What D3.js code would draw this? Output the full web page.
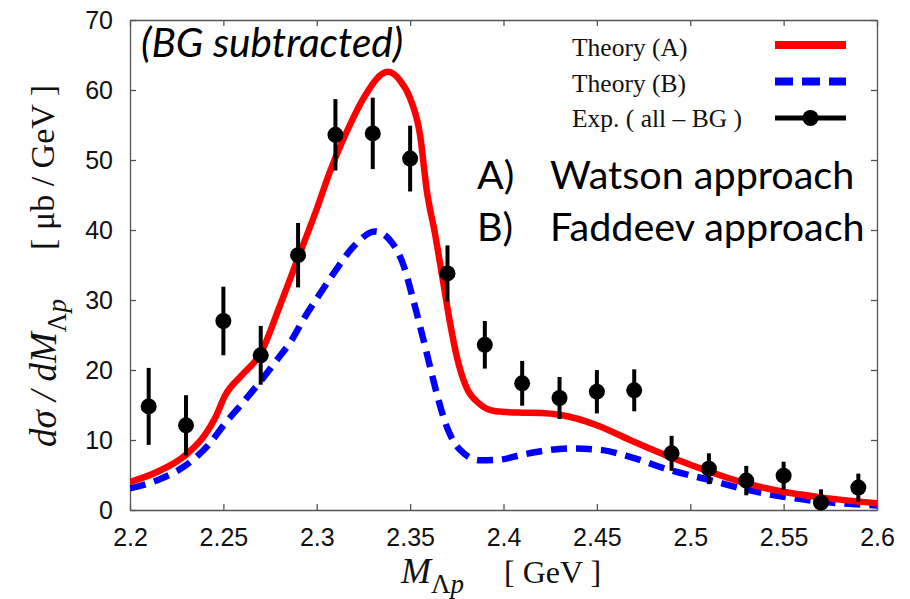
<!DOCTYPE html>
<html>
<head>
<meta charset="utf-8">
<script src="https://cdn.jsdelivr.net/npm/d3@7"></script>
<style>
  body { margin: 0; background: #fff; }
</style>
</head>
<body>
<div id="chart"></div>
<script>
// experimental points (all - BG)
const expMass = [2.21, 2.23, 2.25, 2.27, 2.29, 2.31, 2.33, 2.35, 2.37, 2.39,
                 2.41, 2.43, 2.45, 2.47, 2.49, 2.51, 2.53, 2.55, 2.57, 2.59];
const expValue = [14.8, 12.1, 27.0, 22.1, 36.4, 53.6, 53.8, 50.2, 33.8, 23.6,
                  18.1, 16.0, 16.9, 17.1, 8.1, 5.9, 4.2, 4.9, 1.05, 3.2];
const expError = [5.5, 4.3, 4.9, 4.2, 4.6, 5.1, 5.1, 4.7, 4.0, 3.4,
                  3.2, 3.0, 3.1, 3.0, 2.5, 2.2, 2.1, 2.0, 1.9, 2.0];

// Theory (A) - Watson approach
const theoryAMass = [2.200, 2.215, 2.230, 2.240, 2.2455, 2.251, 2.260, 2.270, 2.280, 2.290,
                     2.300, 2.307, 2.316, 2.325, 2.334, 2.338, 2.3445, 2.350, 2.3553, 2.359,
                     2.3633, 2.3678, 2.3714, 2.375, 2.380, 2.387, 2.396, 2.410, 2.420, 2.430,
                     2.440, 2.450, 2.4677, 2.489, 2.510, 2.530, 2.550, 2.570, 2.600];
const theoryAValue = [4.0, 5.5, 7.9, 10.7, 13.1, 16.4, 19.3, 22.4, 29.0, 36.0,
                      43.0, 48.3, 54.0, 58.8, 62.1, 62.6, 61.4, 58.8, 53.6, 45.5,
                      39.5, 32.4, 26.7, 21.9, 17.6, 15.2, 14.1, 13.9, 13.85, 13.6,
                      13.0, 12.1, 10.0, 7.6, 5.5, 3.8, 2.6, 1.8, 0.95];

// Theory (B) - Faddeev approach
const theoryBMass = [2.200, 2.215, 2.230, 2.242, 2.251, 2.260, 2.269, 2.278, 2.2866, 2.2937,
                     2.300, 2.309, 2.3196, 2.3312, 2.340, 2.3464, 2.3517, 2.3589, 2.3642, 2.3696,
                     2.3767, 2.3874, 2.398, 2.410, 2.420, 2.4356, 2.4517, 2.4677, 2.489, 2.510,
                     2.530, 2.550, 2.570, 2.600];
const theoryBValue = [3.1, 4.3, 6.4, 9.3, 12.4, 15.2, 18.1, 21.2, 24.3, 27.6,
                      30.2, 33.8, 37.6, 39.8, 38.3, 35.0, 30.0, 22.4, 16.7, 11.9,
                      8.6, 7.1, 7.2, 7.9, 8.4, 8.8, 8.6, 7.6, 5.7, 4.3,
                      2.9, 1.9, 1.2, 0.65];

const xTicks = [2.2, 2.25, 2.3, 2.35, 2.4, 2.45, 2.5, 2.55, 2.6];
const yTicks = [0, 10, 20, 30, 40, 50, 60, 70];

const legendItems = ["Theory (A)", "Theory (B)", "Exp. ( all \u2013 BG )"];

const margin = { top: 20, right: 33, bottom: 89, left: 130 },
    width = 910 - margin.left - margin.right,
    height = 599 - margin.top - margin.bottom;

const x = d3.scaleLinear().domain([2.2, 2.6]).range([0, width]);
const y = d3.scaleLinear().domain([0, 70]).range([height, 0]);

const svg = d3.select("#chart")
  .append("svg")
  .attr("width", 910)
  .attr("height", 599);

const chart = svg.append("g")
  .attr("transform", "translate(" + margin.left + "," + margin.top + ")");

chart.append("clipPath")
  .attr("id", "plot-clip")
  .append("rect")
  .attr("width", width)
  .attr("height", height);

// axes on all four sides, ticks pointing inward
const axisColor = "#555";
const tickFont = "'Liberation Sans', Arial, sans-serif";
const serif = "'Liberation Serif', 'Times New Roman', serif";

chart.append("g")
  .attr("transform", "translate(0," + height + ")")
  .call(d3.axisBottom(x).tickValues(xTicks).tickFormat(d3.format("")).tickSizeInner(-6).tickSizeOuter(0).tickPadding(18));

chart.append("g")
  .call(d3.axisLeft(y).tickValues(yTicks).tickSizeInner(-6).tickSizeOuter(0).tickPadding(17));

chart.append("g")
  .call(d3.axisTop(x).tickValues(xTicks).tickFormat("").tickSizeInner(-6).tickSizeOuter(0));

chart.append("g")
  .attr("transform", "translate(" + width + ",0)")
  .call(d3.axisRight(y).tickValues(yTicks).tickFormat("").tickSizeInner(-6).tickSizeOuter(0));

chart.selectAll(".domain, .tick line")
  .attr("stroke", axisColor)
  .attr("stroke-width", 1.3);

chart.selectAll(".tick text")
  .attr("fill", "#111")
  .style("font", "25px " + tickFont);

// theory curves
const theoryA = theoryAMass.map((m, i) => ({ m: m, v: theoryAValue[i] }));
const theoryB = theoryBMass.map((m, i) => ({ m: m, v: theoryBValue[i] }));

const line = d3.line()
  .curve(d3.curveMonotoneX)
  .x((d) => x(d.m))
  .y((d) => y(d.v));

const curves = chart.append("g").attr("clip-path", "url(#plot-clip)");

curves.append("path")
  .datum(theoryB)
  .attr("fill", "none")
  .attr("stroke", "#0000ff")
  .attr("stroke-width", 6.5)
  .attr("stroke-dasharray", "16,9")
  .attr("d", line);

curves.append("path")
  .datum(theoryA)
  .attr("fill", "none")
  .attr("stroke", "#ff0000")
  .attr("stroke-width", 6.5)
  .attr("d", line);

// experimental points with error bars
const exp = expMass.map((m, i) => ({ m: m, v: expValue[i], e: expError[i] }));

chart.append("g")
  .attr("clip-path", "url(#plot-clip)")
  .selectAll("line")
  .data(exp)
  .join("line")
  .attr("x1", (d) => x(d.m))
  .attr("x2", (d) => x(d.m))
  .attr("y1", (d) => y(d.v - d.e))
  .attr("y2", (d) => y(d.v + d.e))
  .attr("stroke", "#000")
  .attr("stroke-width", 4);

chart.append("g")
  .selectAll("circle")
  .data(exp)
  .join("circle")
  .attr("cx", (d) => x(d.m))
  .attr("cy", (d) => y(d.v))
  .attr("r", 8)
  .attr("fill", "#000");

// legend
const legend = svg.append("g");

legend.selectAll("text")
  .data(legendItems)
  .join("text")
  .attr("x", 572)
  .attr("y", (d, i) => 56 + i * 35.5)
  .style("font", "25.5px " + serif)
  .attr("fill", "#111")
  .text((d) => d);

legend.append("line")
  .attr("x1", 775).attr("x2", 846)
  .attr("y1", 45).attr("y2", 45)
  .attr("stroke", "#ff0000")
  .attr("stroke-width", 8);

legend.append("line")
  .attr("x1", 775).attr("x2", 846)
  .attr("y1", 81.5).attr("y2", 81.5)
  .attr("stroke", "#0000ff")
  .attr("stroke-width", 8)
  .attr("stroke-dasharray", "18,9");

legend.append("line")
  .attr("x1", 775).attr("x2", 846)
  .attr("y1", 118).attr("y2", 118)
  .attr("stroke", "#000")
  .attr("stroke-width", 5);

legend.append("circle")
  .attr("cx", 810.5)
  .attr("cy", 118)
  .attr("r", 8)
  .attr("fill", "#000");

// annotations
svg.append("text")
  .attr("x", 141)
  .attr("y", 57)
  .style("font", "italic 40.5px Lato, 'Open Sans', sans-serif")
  .attr("fill", "#000")
  .text("(BG subtracted)");

const notes = [["A)", "Watson approach"], ["B)", "Faddeev approach"]];
notes.forEach((n, i) => {
  svg.append("text")
    .attr("x", 477)
    .attr("y", 189 + i * 52)
    .style("font", "39.5px Lato, 'Open Sans', sans-serif")
    .text(n[0]);
  svg.append("text")
    .attr("x", 550)
    .attr("y", 189 + i * 52)
    .style("font", "39.5px Lato, 'Open Sans', sans-serif")
    .text(n[1]);
});

// x axis title
const xTitle = svg.append("text")
  .attr("x", 401)
  .attr("y", 583)
  .style("font-family", serif)
  .attr("fill", "#111");
xTitle.append("tspan").style("font-style", "italic").style("font-size", "36px").text("M");
xTitle.append("tspan").style("font-size", "27px").attr("dy", 10).text("Λ");
xTitle.append("tspan").style("font-style", "italic").style("font-size", "27px").text("p");
xTitle.append("tspan").style("font-size", "32px").attr("dy", -10).attr("dx", 40).text("[ GeV ]");

// y axis title
const yTitle = svg.append("text")
  .attr("transform", "translate(56,447) rotate(-90)")
  .style("font-family", serif)
  .attr("fill", "#111");
yTitle.append("tspan").style("font-style", "italic").style("font-size", "37px").text("dσ / dM");
yTitle.append("tspan").style("font-size", "27px").attr("dy", 10).text("Λ");
yTitle.append("tspan").style("font-style", "italic").style("font-size", "27px").text("p");

svg.append("text")
  .attr("transform", "translate(54,85) rotate(-90)")
  .attr("text-anchor", "end")
  .style("font", "34px " + serif)
  .attr("fill", "#111")
  .attr("xml:space", "preserve")
  .text("[ μb / GeV ]");
</script>
</body>
</html>
